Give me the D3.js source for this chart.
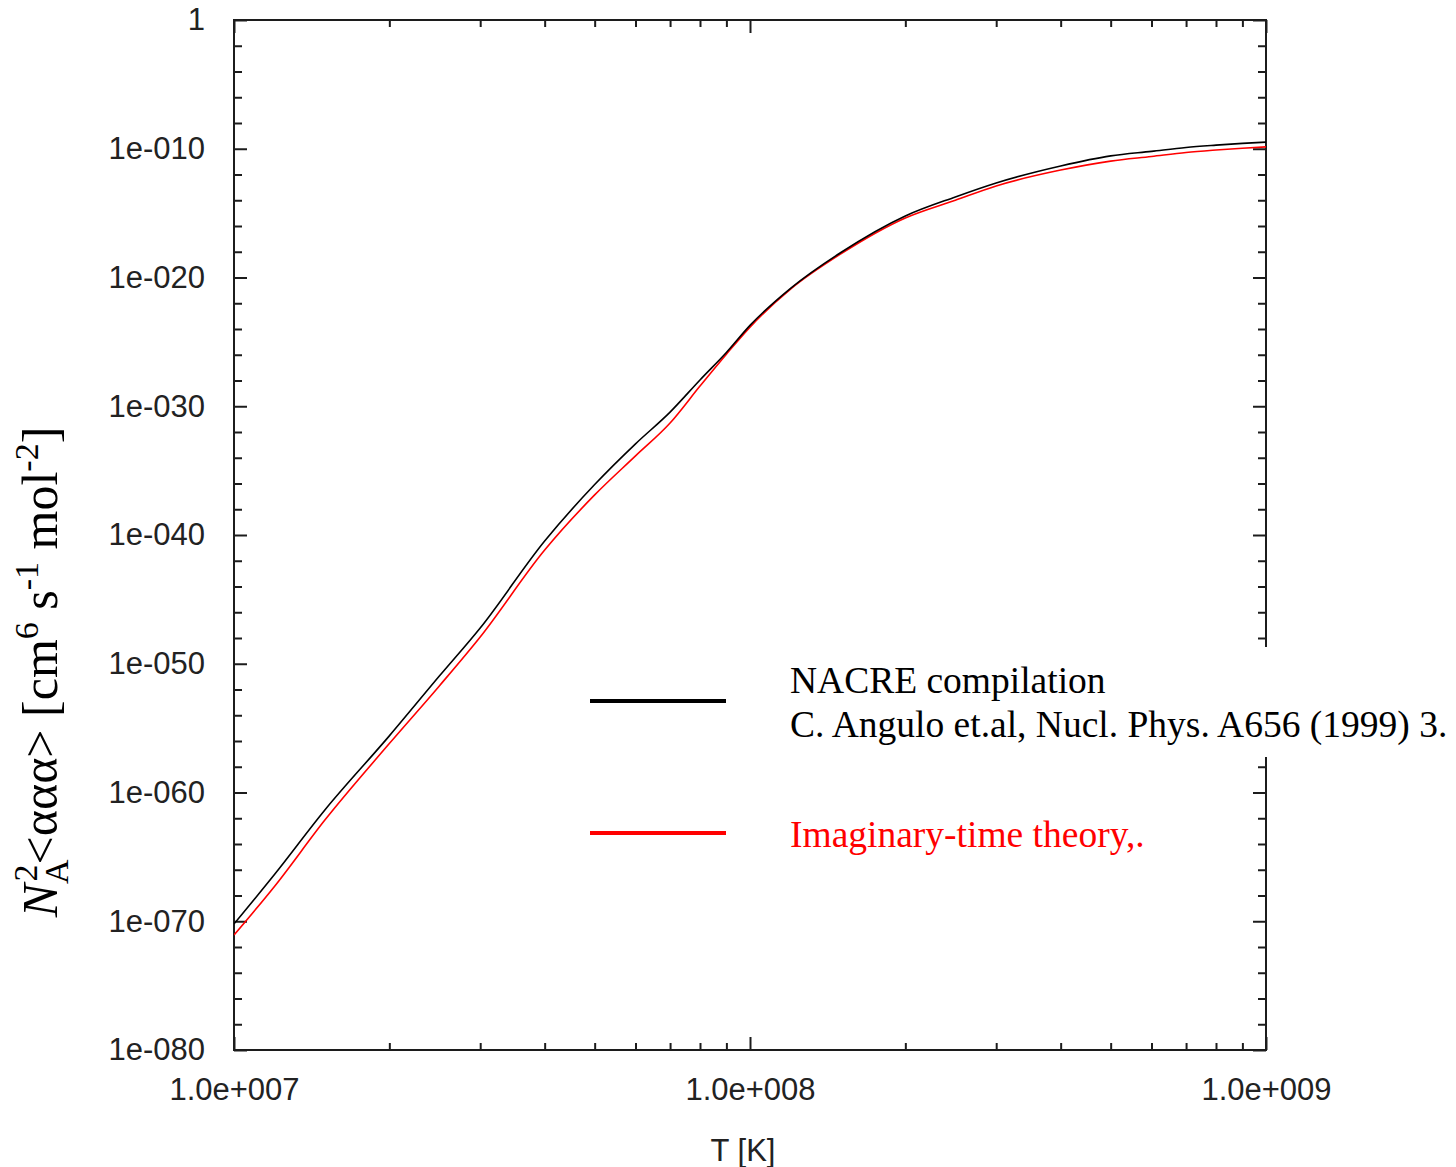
<!DOCTYPE html>
<html>
<head>
<meta charset="utf-8">
<script src="https://cdn.jsdelivr.net/npm/d3@7"></script>
<style>
  body { margin: 0; background: #fff; }
  svg { display: block; }
</style>
</head>
<body>
<svg id="chart" width="1456" height="1167"></svg>
<script>
// Temperature grid [K]
const temperatures = [
  1.0e7, 1.2e7, 1.5e7, 2.0e7, 2.5e7, 3.0e7, 4.0e7, 5.0e7, 6.0e7, 7.0e7, 8.0e7, 9.0e7,
  1.0e8, 1.2e8, 1.5e8, 2.0e8, 2.5e8, 3.0e8, 4.0e8, 5.0e8, 6.0e8, 7.0e8, 8.0e8, 9.0e8, 1.0e9
];

// NACRE compilation, N_A^2 <ααα> [cm^6 s^-1 mol^-2]
const nacreRate = [
  6.2e-71, 4.7e-67, 4.4e-62, 2.5e-56, 1.1e-51, 6.0e-48, 3.4e-41, 8.3e-37, 1.2e-33, 3.5e-31, 1.1e-28, 1.5e-26,
  1.9e-24, 1.5e-21, 8.7e-19, 6.0e-16, 1.8e-14, 2.2e-13, 4.6e-12, 2.8e-11, 6.3e-11, 1.26e-10, 1.9e-10, 2.6e-10, 3.3e-10
];

// Imaginary-time theory
const imagTimeRate = [
  8.5e-72, 5.5e-68, 7.2e-63, 6.3e-57, 1.9e-52, 1.2e-48, 6.8e-42, 1.3e-37, 1.4e-34, 5.0e-32, 3.7e-29, 1.1e-26,
  1.4e-24, 1.3e-21, 6.8e-19, 4.2e-16, 1.0e-14, 1.3e-13, 2.2e-12, 1.1e-11, 2.5e-11, 5.1e-11, 7.9e-11, 1.1e-10, 1.4e-10
];

// Axis ticks
const xMajorTicks = [1e7, 1e8, 1e9];
const xTickLabels = ["1.0e+007", "1.0e+008", "1.0e+009"];
const yMajorTicks = [1, 1e-10, 1e-20, 1e-30, 1e-40, 1e-50, 1e-60, 1e-70, 1e-80];
const yTickLabels = ["1", "1e-010", "1e-020", "1e-030", "1e-040", "1e-050", "1e-060", "1e-070", "1e-080"];

const legendLabels = [
  ["NACRE compilation", "C. Angulo et.al, Nucl. Phys. A656 (1999) 3."],
  ["Imaginary-time theory,."]
];
const seriesColors = ["#000000", "#ff0000"];

// ---------------------------------------------------------------------------
const svg = d3.select("#chart");
const plot = { left: 234, right: 1266, top: 20, bottom: 1050 };
const axisColor = "#1c1c1c";
const labelFont = "'Liberation Sans', Arial, sans-serif";
const serifFont = "'Liberation Serif', 'Times New Roman', serif";

const x = d3.scaleLog().domain([1e7, 1e9]).range([plot.left, plot.right]);
const y = d3.scaleLog().domain([1e-80, 1]).range([plot.bottom, plot.top]);

// minor ticks: 2..9 per decade on x, every second decade on y
const xMinorTicks = [];
for (let d = 7; d < 9; d++) for (let m = 2; m <= 9; m++) xMinorTicks.push(m * Math.pow(10, d));
const yMinorTicks = [];
for (let e = 0; e >= -80; e -= 2) if (e % 10 !== 0) yMinorTicks.push(Math.pow(10, e));

function styleAxis(g) {
  g.select(".domain").remove();
  g.selectAll(".tick line").attr("stroke", axisColor).attr("stroke-width", 2);
  g.selectAll(".tick text")
    .attr("fill", "#222")
    .style("font-family", labelFont)
    .style("font-size", "31px");
}

const plotW = plot.right - plot.left;
const plotH = plot.bottom - plot.top;

// left axis
svg.append("g").attr("transform", `translate(${plot.left},0)`)
  .call(d3.axisLeft(y).tickValues(yMinorTicks).tickSize(-8).tickFormat(""))
  .call(styleAxis);
svg.append("g").attr("transform", `translate(${plot.left},0)`)
  .call(d3.axisLeft(y).tickValues(yMajorTicks).tickSize(-13).tickPadding(29)
    .tickFormat((d, i) => yTickLabels[i]))
  .call(styleAxis);

// right axis (mirror ticks)
svg.append("g").attr("transform", `translate(${plot.right},0)`)
  .call(d3.axisRight(y).tickValues(yMinorTicks).tickSize(-8).tickFormat(""))
  .call(styleAxis);
svg.append("g").attr("transform", `translate(${plot.right},0)`)
  .call(d3.axisRight(y).tickValues(yMajorTicks).tickSize(-13).tickFormat(""))
  .call(styleAxis);

// bottom axis
svg.append("g").attr("transform", `translate(0,${plot.bottom})`)
  .call(d3.axisBottom(x).tickValues(xMinorTicks).tickSize(-7).tickFormat(""))
  .call(styleAxis);
svg.append("g").attr("transform", `translate(0,${plot.bottom})`)
  .call(d3.axisBottom(x).tickValues(xMajorTicks).tickSize(-13).tickPadding(28)
    .tickFormat((d, i) => xTickLabels[i]))
  .call(styleAxis);

// top axis (mirror ticks)
svg.append("g").attr("transform", `translate(0,${plot.top})`)
  .call(d3.axisTop(x).tickValues(xMinorTicks).tickSize(-7).tickFormat(""))
  .call(styleAxis);
svg.append("g").attr("transform", `translate(0,${plot.top})`)
  .call(d3.axisTop(x).tickValues(xMajorTicks).tickSize(-13).tickFormat(""))
  .call(styleAxis);

// frame
svg.append("rect")
  .attr("x", plot.left).attr("y", plot.top)
  .attr("width", plotW).attr("height", plotH)
  .attr("fill", "none").attr("stroke", axisColor).attr("stroke-width", 2);

// curves
svg.append("clipPath").attr("id", "plot-clip")
  .append("rect").attr("x", plot.left).attr("y", plot.top)
  .attr("width", plotW).attr("height", plotH);

const line = d3.line()
  .x((d, i) => x(temperatures[i]))
  .y(d => y(d))
  .curve(d3.curveMonotoneX);

const curves = svg.append("g").attr("clip-path", "url(#plot-clip)");
curves.append("path").datum(imagTimeRate)
  .attr("d", line).attr("fill", "none")
  .attr("stroke", seriesColors[1]).attr("stroke-width", 1.6);
curves.append("path").datum(nacreRate)
  .attr("d", line).attr("fill", "none")
  .attr("stroke", seriesColors[0]).attr("stroke-width", 1.6);

// legend
const legend = svg.append("g");
legend.append("rect")
  .attr("x", 580).attr("y", 647).attr("width", 876).attr("height", 110)
  .attr("fill", "#fff");
const legendRows = [
  { lineY: 701, textY: [693, 737] },
  { lineY: 833, textY: [847] }
];
legendRows.forEach((row, k) => {
  legend.append("line")
    .attr("x1", 590).attr("x2", 726)
    .attr("y1", row.lineY).attr("y2", row.lineY)
    .attr("stroke", seriesColors[k]).attr("stroke-width", 4);
  legendLabels[k].forEach((t, j) => {
    legend.append("text")
      .attr("x", 790).attr("y", row.textY[j])
      .attr("fill", seriesColors[k])
      .style("font-family", serifFont)
      .style("font-size", "37.5px")
      .text(t);
  });
});

// x axis title
svg.append("text")
  .attr("x", 743).attr("y", 1161)
  .attr("text-anchor", "middle")
  .attr("fill", "#222")
  .style("font-family", labelFont)
  .style("font-size", "31px")
  .text("T [K]");

// y axis title: N_A^2 <ααα> [cm^6 s^-1 mol^-2]
const yTitle = svg.append("text")
  .attr("transform", "translate(57,672) rotate(-90)")
  .attr("text-anchor", "middle")
  .attr("fill", "#000")
  .style("font-family", serifFont)
  .style("font-size", "50px");
yTitle.append("tspan").style("font-style", "italic").text("N");
yTitle.append("tspan").style("font-size", "34px").attr("dy", 11).text("A");
yTitle.append("tspan").style("font-size", "34px").attr("dx", -22).attr("dy", -31).text("2");
yTitle.append("tspan").attr("dy", 20).text("<ααα> [cm");
yTitle.append("tspan").style("font-size", "34px").attr("dy", -19).text("6");
yTitle.append("tspan").attr("dy", 19).text(" s");
yTitle.append("tspan").style("font-size", "34px").attr("dy", -19).text("-1");
yTitle.append("tspan").attr("dy", 19).text(" mol");
yTitle.append("tspan").style("font-size", "34px").attr("dy", -19).text("-2");
yTitle.append("tspan").attr("dy", 19).text("]");
</script>
</body>
</html>
